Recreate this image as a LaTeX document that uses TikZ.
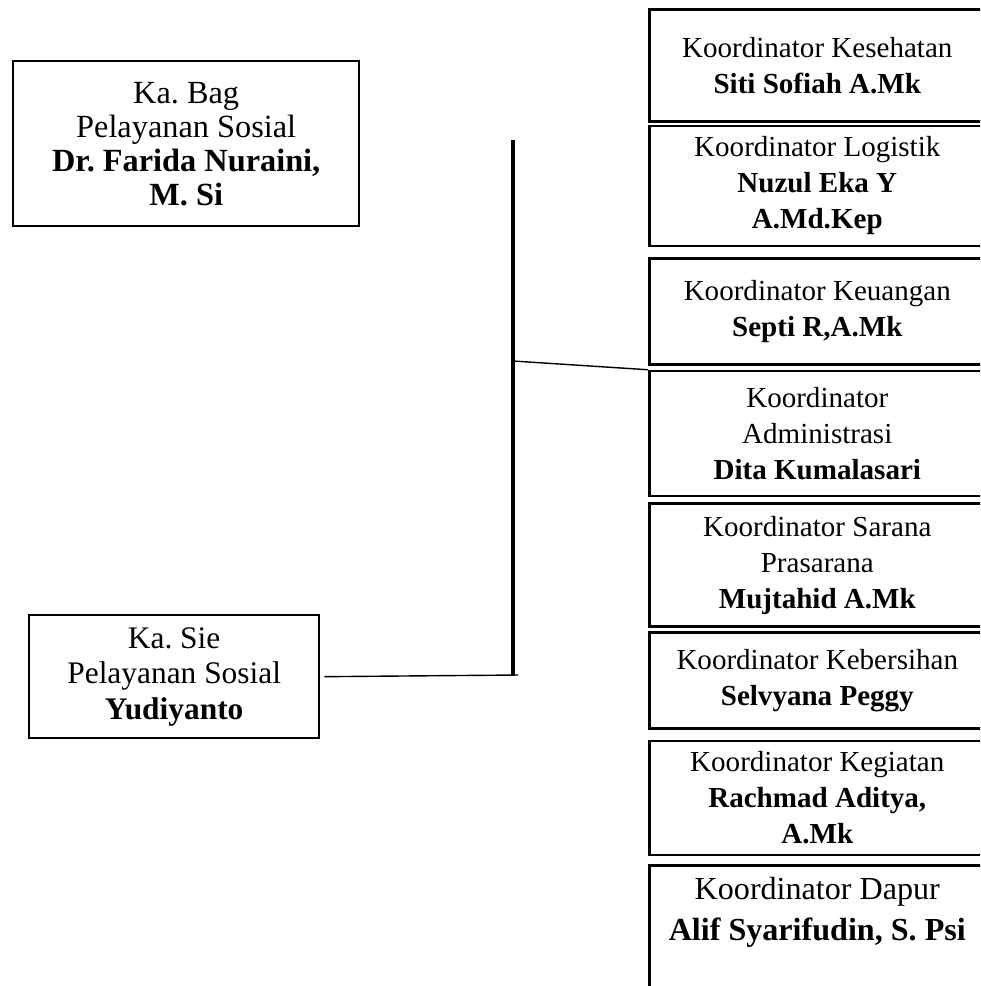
\documentclass[tikz,border=0pt]{standalone}
\usepackage{fontspec}
\setmainfont{Liberation Serif}
\usetikzlibrary{positioning}
\frenchspacing

\begin{document}
\begin{tikzpicture}[x=0.015cm, y=-0.015cm,
  jab/.style={draw, line width=1pt, align=center, inner sep=2pt,
    font=\fontsize{12.4}{15.4}\selectfont},
  koor/.style={jab, minimum width=5.04cm, line width=1.1pt},
  garis/.style={line width=0.6pt},
  tiang/.style={line width=1.6pt}]
  \clip (0,0) rectangle (980,986);

  % pimpinan
  \node[jab, anchor=north west, minimum width=5.19cm, minimum height=2.475cm,
    font=\fontsize{13.8}{14.5}\selectfont] (kabag) at (12,60)
    {Ka. Bag\\ Pelayanan Sosial\\ \textbf{Dr. Farida Nuraini,}\\ \textbf{M. Si}};
  \node[jab, anchor=north west, minimum width=4.35cm, minimum height=1.845cm,
    font=\fontsize{13.4}{15.2}\selectfont] (kasie) at (28,614)
    {Ka. Sie\\ Pelayanan Sosial\\ \textbf{Yudiyanto}};

  % koordinator
  \node[koor, anchor=north west, minimum height=1.68cm] (kes) at (648,8)
    {Koordinator Kesehatan\\ \textbf{Siti Sofiah A.Mk}};
  \node[koor, below=0.03cm of kes, minimum height=1.8cm] (log)
    {Koordinator Logistik\\ \textbf{Nuzul Eka Y}\\ \textbf{A.Md.Kep}};
  \node[koor, below=0.15cm of log, minimum height=1.59cm] (keu)
    {Koordinator Keuangan\\ \textbf{Septi R,A.Mk}};
  \node[koor, below=0.06cm of keu, minimum height=1.875cm] (adm)
    {Koordinator\\ Administrasi\\ \textbf{Dita Kumalasari}};
  \node[koor, below=0.075cm of adm, minimum height=1.845cm] (sar)
    {Koordinator Sarana\\ Prasarana\\ \textbf{Mujtahid A.Mk}};
  \node[koor, below=0.045cm of sar, minimum height=1.44cm] (keb)
    {Koordinator Kebersihan\\ \textbf{Selvyana Peggy}};
  \node[koor, below=0.15cm of keb, minimum height=1.71cm] (keg)
    {Koordinator Kegiatan\\ \textbf{Rachmad Aditya,}\\ \textbf{A.Mk}};
  \node[koor, below=0.12cm of keg, inner ysep=5pt, text depth=3cm,
    font=\fontsize{13.7}{17.5}\selectfont] (dap)
    {Koordinator Dapur\\ \textbf{Alif Syarifudin, S. Psi}};

  % garis
  \coordinate (atas) at (513,140);
  \coordinate (tengah) at (513,361);
  \coordinate (bawah) at (513,675);
  \draw[tiang] (atas) -- (bawah);
  \draw[garis] ([xshift=0.06cm]kasie.east) -- ([xshift=0.08cm]bawah);
  \draw[garis] (tengah) -- (adm.north west);
\end{tikzpicture}
\end{document}
